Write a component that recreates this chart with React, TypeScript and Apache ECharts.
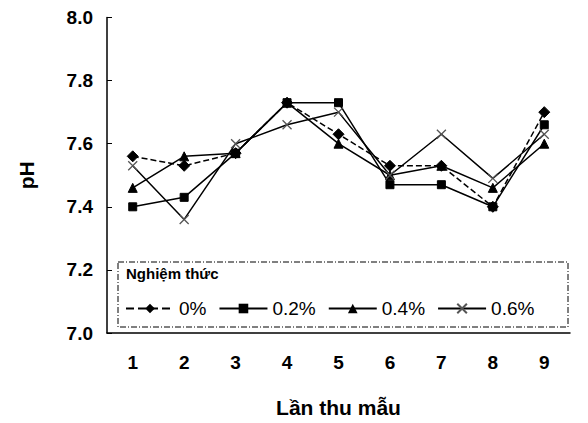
import React, { useEffect, useRef } from 'react';
import * as echarts from 'echarts';

const samples = ['1', '2', '3', '4', '5', '6', '7', '8', '9'];
const s0 = [7.56, 7.53, 7.57, 7.73, 7.63, 7.53, 7.53, 7.40, 7.70];
const s02 = [7.40, 7.43, 7.57, 7.73, 7.73, 7.47, 7.47, 7.40, 7.66];
const s04 = [7.46, 7.56, 7.57, 7.73, 7.60, 7.50, 7.53, 7.46, 7.60];
const s06 = [7.53, 7.36, 7.60, 7.66, 7.70, 7.50, 7.63, 7.49, 7.63];

const font = 'Arial, "Liberation Sans", sans-serif';
const cross = 'path://M0,0L10,10M10,0L0,10';

const App: React.FC = () => {
  const ref = useRef<HTMLDivElement>(null);

  useEffect(() => {
    if (!ref.current) return;
    const chart = echarts.init(ref.current, undefined, { renderer: 'svg' });
    const mk = (name: string, data: number[], symbol: string, size: number, dashed = false) => ({
      name,
      type: 'line' as const,
      data,
      symbol,
      symbolSize: size,
      lineStyle: { color: '#000', width: 1.5, type: dashed ? 'dashed' as const : 'solid' as const },
      itemStyle: symbol === cross
        ? { color: 'none', borderColor: '#555', borderWidth: 1.3 }
        : { color: '#000', borderColor: '#000' },
    });
    chart.setOption({
      animation: false,
      backgroundColor: '#fff',
      grid: { left: 97, right: 18, top: 9, bottom: 83 },
      xAxis: {
        type: 'category',
        data: samples,
        boundaryGap: true,
        name: 'Lần thu mẫu',
        nameLocation: 'middle',
        nameGap: 64,
        nameTextStyle: { fontFamily: font, fontWeight: 'bold', fontSize: 21, color: '#000' },
        axisLine: { lineStyle: { color: '#000', width: 1.5 } },
        axisTick: { show: false },
        axisLabel: { fontFamily: font, fontWeight: 'bold', fontSize: 19, color: '#000', margin: 20 },
      },
      yAxis: {
        type: 'value',
        min: 7.0,
        max: 8.0,
        interval: 0.2,
        name: 'pH',
        nameLocation: 'middle',
        nameGap: 70,
        nameTextStyle: { fontFamily: font, fontWeight: 'bold', fontSize: 21, color: '#000' },
        axisLine: { show: true, lineStyle: { color: '#000', width: 1.5 } },
        axisTick: { show: true, length: 5, inside: true, lineStyle: { color: '#000' } },
        splitLine: { show: false },
        axisLabel: {
          fontFamily: font, fontWeight: 'bold', fontSize: 19, color: '#000', margin: 14,
          formatter: (v: number) => v.toFixed(1),
        },
      },
      legend: {
        left: 112,
        top: 286,
        itemWidth: 48,
        itemHeight: 12,
        itemGap: 12,
        textStyle: { fontFamily: font, fontSize: 19, color: '#000' },
        data: ['0%', '0.2%', '0.4%', '0.6%'],
      },
      graphic: [
        {
          type: 'rect',
          shape: { x: 110, y: 254, width: 450, height: 65 },
          style: { fill: '#fff', stroke: '#000', lineWidth: 1, lineDash: [6, 2, 1, 2] },
          z: 0,
        },
        {
          type: 'text',
          x: 118,
          y: 258,
          style: { text: 'Nghiệm thức', fontFamily: font, fontWeight: 'bold', fontSize: 15, fill: '#000' },
        },
      ],
      series: [
        mk('0%', s0, 'diamond', 11, true),
        mk('0.2%', s02, 'rect', 8),
        mk('0.4%', s04, 'triangle', 9),
        mk('0.6%', s06, cross, 9),
      ],
    });
    return () => chart.dispose();
  }, []);

  return <div ref={ref} style={{ width: 580, height: 415 }} />;
};

export default App;
